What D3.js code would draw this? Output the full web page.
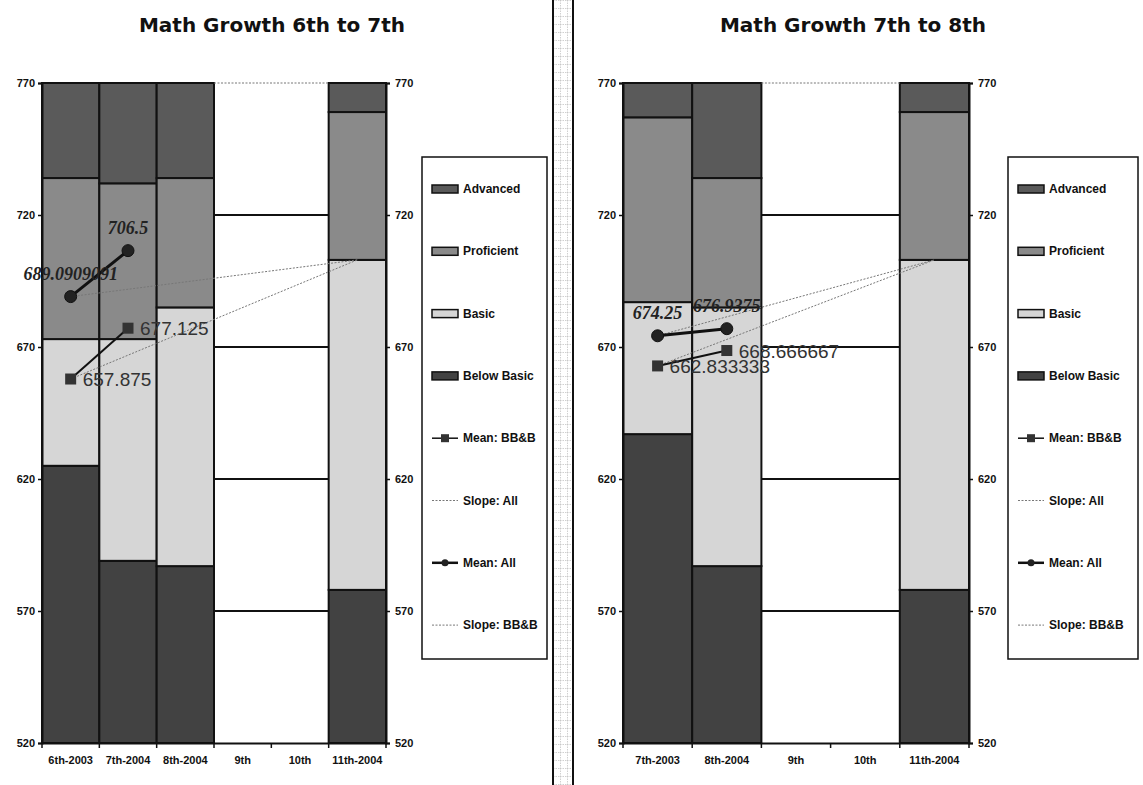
<!DOCTYPE html>
<html>
<head>
<meta charset="utf-8">
<script src="https://cdn.jsdelivr.net/npm/d3@7"></script>
<style>
  body { margin: 0; background: #fff; }
  svg { display: block; }
</style>
</head>
<body>
<svg id="chart" width="1143" height="785"></svg>
<script>
// ---- shared scale / legend data ----
const yTicks = [520, 570, 620, 670, 720, 770];
const levelNames = ["Below Basic", "Basic", "Proficient", "Advanced"];
const levelColors = ["#424242", "#d6d6d6", "#8a8a8a", "#5a5a5a"];
const legendItems = ["Advanced", "Proficient", "Basic", "Below Basic", "Mean: BB&B", "Slope: All", "Mean: All", "Slope: BB&B"];

// ---- panel 1: 6th to 7th ----
const leftTitle = "Math Growth 6th to 7th";
const leftCategories = ["6th-2003", "7th-2004", "8th-2004", "9th", "10th", "11th-2004"];
// upper cut score of each performance level
const leftBelowBasic = [625, 589, 587, null, null, 578];
const leftBasic      = [673, 673, 685, null, null, 703];
const leftProficient = [734, 732, 734, null, null, 759];
const leftAdvanced   = [770, 770, 770, null, null, 770];
const leftMeanCats = ["6th-2003", "7th-2004"];
const leftMeanAll = [689.0909091, 706.5];
const leftMeanBBB = [657.875, 677.125];
const leftSlopeCats = ["6th-2003", "11th-2004"];
const leftSlopeAll = [689.0909091, 703];
const leftSlopeBBB = [657.875, 703];

// ---- panel 2: 7th to 8th ----
const rightTitle = "Math Growth 7th to 8th";
const rightCategories = ["7th-2003", "8th-2004", "9th", "10th", "11th-2004"];
const rightBelowBasic = [637, 587, null, null, 578];
const rightBasic      = [687, 685, null, null, 703];
const rightProficient = [757, 734, null, null, 759];
const rightAdvanced   = [770, 770, null, null, 770];
const rightMeanCats = ["7th-2003", "8th-2004"];
const rightMeanAll = [674.25, 676.9375];
const rightMeanBBB = [662.833333, 668.666667];
const rightSlopeCats = ["7th-2003", "11th-2004"];
const rightSlopeAll = [674.25, 703];
const rightSlopeBBB = [662.833333, 703];

const svg = d3.select("#chart");
const sans = "'Liberation Sans', Arial, sans-serif";
const wide = "'DejaVu Sans', Verdana, sans-serif";
const serif = "'Liberation Serif', 'Times New Roman', serif";

// graph-paper strip between the two panels
const defs = svg.append("defs");
const pat = defs.append("pattern").attr("id", "paper")
  .attr("patternUnits", "userSpaceOnUse").attr("width", 7).attr("height", 8);
pat.append("path").attr("d", "M0,0.5H7M0.5,0V8")
  .attr("stroke", "#c4c4c4").attr("stroke-width", 0.8).attr("stroke-dasharray", "1.5,1");
svg.append("rect").attr("x", 554).attr("y", 0).attr("width", 18).attr("height", 785).attr("fill", "url(#paper)");
svg.append("line").attr("x1", 553).attr("x2", 553).attr("y1", 0).attr("y2", 785).attr("stroke", "#111").attr("stroke-width", 2);
svg.append("line").attr("x1", 573).attr("x2", 573).attr("y1", 0).attr("y2", 785).attr("stroke", "#111").attr("stroke-width", 2);

function drawPanel(p) {
  const g = svg.append("g");
  const x = d3.scaleBand().domain(p.categories).range([p.x0, p.x1]).padding(0);
  const y = d3.scaleLinear().domain([520, 770]).range([743, 83]);
  const cx = c => x(c) + x.bandwidth() / 2;

  // title
  g.append("text").attr("x", p.titleX).attr("y", 32).attr("text-anchor", "middle")
    .attr("font-family", wide).attr("font-weight", "bold").attr("font-size", 20)
    .attr("fill", "#111").text(p.title);

  // stacked performance-level bars
  const tops = [p.belowBasic, p.basic, p.proficient, p.advanced];
  p.categories.forEach((c, i) => {
    if (p.belowBasic[i] == null) return;
    let base = 520;
    tops.forEach((arr, k) => {
      const top = arr[i];
      g.append("rect")
        .attr("x", x(c)).attr("width", x.bandwidth())
        .attr("y", y(top)).attr("height", y(base) - y(top))
        .attr("fill", levelColors[k]).attr("stroke", "#111").attr("stroke-width", 2);
      base = top;
    });
  });

  // empty grade columns: outlined at each tick level
  const blanks = p.categories.filter((c, i) => p.belowBasic[i] == null);
  const bx0 = x(blanks[0]), bx1 = x(blanks[blanks.length - 1]) + x.bandwidth();
  yTicks.filter(t => t > 520 && t < 770).forEach(t => {
    g.append("line").attr("x1", bx0).attr("x2", bx1).attr("y1", y(t)).attr("y2", y(t))
      .attr("stroke", "#111").attr("stroke-width", 2);
  });
  g.append("line").attr("x1", bx0).attr("x2", bx1).attr("y1", y(770)).attr("y2", y(770))
    .attr("stroke", "#777").attr("stroke-width", 1).attr("stroke-dasharray", "2,1.5");

  // axes
  const axL = g.append("g").attr("transform", `translate(${p.x0},0)`)
    .call(d3.axisLeft(y).tickValues(yTicks).tickSize(4).tickPadding(3));
  const axR = g.append("g").attr("transform", `translate(${p.x1},0)`)
    .call(d3.axisRight(y).tickValues(yTicks).tickSize(4).tickPadding(5));
  const axB = g.append("g").attr("transform", `translate(0,743)`)
    .call(d3.axisBottom(x).tickSize(0).tickPadding(13));
  [axL, axR, axB].forEach(a => {
    a.select(".domain").attr("stroke", "#111").attr("stroke-width", 2);
    a.selectAll(".tick line").attr("stroke", "#111").attr("stroke-width", 1.5);
    a.selectAll("text").attr("font-family", sans).attr("font-weight", "bold")
      .attr("font-size", 11).attr("fill", "#111");
  });
  // category boundary ticks
  const bounds = p.categories.map(c => x(c)).concat([p.x1]);
  g.selectAll(null).data(bounds).enter().append("line")
    .attr("x1", d => d).attr("x2", d => d).attr("y1", 743).attr("y2", 748)
    .attr("stroke", "#111").attr("stroke-width", 1.5);

  // slope lines
  const line = d3.line().x(d => cx(d[0])).y(d => y(d[1]));
  [p.slopeAll, p.slopeBBB].forEach(vals => {
    g.append("path").datum(p.slopeCats.map((c, i) => [c, vals[i]]))
      .attr("d", line).attr("fill", "none")
      .attr("stroke", "#777").attr("stroke-width", 1).attr("stroke-dasharray", "2,1.5");
  });

  // Mean: BB&B
  const bbb = p.meanCats.map((c, i) => [c, p.meanBBB[i]]);
  g.append("path").datum(bbb).attr("d", line).attr("fill", "none")
    .attr("stroke", "#111").attr("stroke-width", 2);
  g.selectAll(null).data(bbb).enter().append("rect")
    .attr("x", d => cx(d[0]) - 5.5).attr("y", d => y(d[1]) - 5.5)
    .attr("width", 11).attr("height", 11).attr("fill", "#333");
  g.selectAll(null).data(bbb).enter().append("text")
    .attr("x", d => cx(d[0]) + 12).attr("y", d => y(d[1]) + 7)
    .attr("font-family", sans).attr("font-size", 19).attr("fill", "#333")
    .text(d => d[1]);

  // Mean: All
  const all = p.meanCats.map((c, i) => [c, p.meanAll[i]]);
  g.append("path").datum(all).attr("d", line).attr("fill", "none")
    .attr("stroke", "#111").attr("stroke-width", 3);
  g.selectAll(null).data(all).enter().append("circle")
    .attr("cx", d => cx(d[0])).attr("cy", d => y(d[1])).attr("r", 6)
    .attr("fill", "#222").attr("stroke", "#111").attr("stroke-width", 1);
  g.selectAll(null).data(all).enter().append("text")
    .attr("x", d => cx(d[0])).attr("y", d => y(d[1]) - 17).attr("text-anchor", "middle")
    .attr("font-family", serif).attr("font-weight", "bold").attr("font-style", "italic")
    .attr("font-size", 18).attr("fill", "#222")
    .text(d => d[1]);

  // legend
  const lg = g.append("g");
  lg.append("rect").attr("x", p.legX).attr("y", 157).attr("width", p.legW).attr("height", 502)
    .attr("fill", "#fff").attr("stroke", "#111").attr("stroke-width", 1.5);
  legendItems.forEach((name, i) => {
    const yy = 189 + i * 62.3;
    const sx = p.legX + 10;
    const lvl = levelNames.indexOf(name);
    if (lvl >= 0) {
      lg.append("rect").attr("x", sx).attr("y", yy - 4).attr("width", 26).attr("height", 8)
        .attr("fill", levelColors[lvl]).attr("stroke", "#111").attr("stroke-width", 1.5);
    } else if (name.startsWith("Slope")) {
      lg.append("line").attr("x1", sx).attr("x2", sx + 26).attr("y1", yy).attr("y2", yy)
        .attr("stroke", "#777").attr("stroke-width", 1).attr("stroke-dasharray", "2,1.5");
    } else if (name === "Mean: BB&B") {
      lg.append("line").attr("x1", sx).attr("x2", sx + 26).attr("y1", yy).attr("y2", yy)
        .attr("stroke", "#111").attr("stroke-width", 1.5);
      lg.append("rect").attr("x", sx + 9).attr("y", yy - 4).attr("width", 8).attr("height", 8).attr("fill", "#333");
    } else {
      lg.append("line").attr("x1", sx).attr("x2", sx + 26).attr("y1", yy).attr("y2", yy)
        .attr("stroke", "#111").attr("stroke-width", 2.5);
      lg.append("circle").attr("cx", sx + 13).attr("cy", yy).attr("r", 3.5).attr("fill", "#222");
    }
    lg.append("text").attr("x", sx + 31).attr("y", yy + 4)
      .attr("font-family", sans).attr("font-weight", "bold").attr("font-size", 12)
      .attr("fill", "#111").text(name);
  });
}

drawPanel({
  title: leftTitle, titleX: 272, x0: 42, x1: 386, legX: 422, legW: 125,
  categories: leftCategories, belowBasic: leftBelowBasic, basic: leftBasic,
  proficient: leftProficient, advanced: leftAdvanced,
  meanCats: leftMeanCats, meanAll: leftMeanAll, meanBBB: leftMeanBBB,
  slopeCats: leftSlopeCats, slopeAll: leftSlopeAll, slopeBBB: leftSlopeBBB
});
drawPanel({
  title: rightTitle, titleX: 853, x0: 623, x1: 969, legX: 1008, legW: 130,
  categories: rightCategories, belowBasic: rightBelowBasic, basic: rightBasic,
  proficient: rightProficient, advanced: rightAdvanced,
  meanCats: rightMeanCats, meanAll: rightMeanAll, meanBBB: rightMeanBBB,
  slopeCats: rightSlopeCats, slopeAll: rightSlopeAll, slopeBBB: rightSlopeBBB
});
</script>
</body>
</html>
